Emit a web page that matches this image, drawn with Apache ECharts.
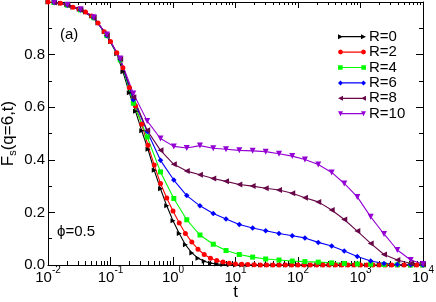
<!DOCTYPE html>
<html>
<head>
<meta charset="utf-8">
<script src="https://cdn.jsdelivr.net/npm/echarts@6/dist/echarts.min.js"></script>
<style>html,body{margin:0;padding:0;background:#fff}#c{width:436px;height:302px}</style>
</head>
<body>
<div id="c"></div>
<script>
// dense time grid (R=0, R=2)
const tDense = [0.01,0.0126,0.0158,0.02,0.0251,0.0316,0.0398,0.0501,0.0631,0.0794,
  0.1,0.126,0.158,0.2,0.251,0.316,0.398,0.501,0.631,0.794,
  1,1.26,1.58,2,2.51,3.16,3.98,5.01,6.31,7.94,
  10,12.6,15.8,20,25.1,31.6,39.8,50.1,63.1,79.4,
  100,126,158,200,251,316,398,501,631,794,
  1000,1260,1580,2000,2510,3160,3980,5010,6310,7940,10000];
const fR0 = [1.0,0.998,0.995,0.99,0.98,0.972,0.962,0.947,0.92,0.887,
  0.85,0.803,0.735,0.655,0.585,0.51,0.44,0.36,0.29,0.225,
  0.168,0.12,0.077,0.046,0.026,0.014,0.007,0.004,0.002,0.001,
  0,0,0,0,0,0,0,0,0,0, 0,0,0,0,0,0,0,0,0,0, 0,0,0,0,0,0,0,0,0,0,0];
const fR2 = [1.0,0.998,0.995,0.99,0.98,0.972,0.962,0.947,0.92,0.887,
  0.85,0.807,0.75,0.675,0.605,0.535,0.455,0.38,0.31,0.255,
  0.205,0.16,0.12,0.087,0.06,0.04,0.026,0.017,0.011,0.007,
  0.004,0.003,0.002,0.001,0,0,0,0,0,0, 0,0,0,0,0,0,0,0,0,0, 0,0,0,0,0,0,0,0,0,0,0];
// sparse time grid (R=4..10)
const tSparse = [0.0125,0.0204,0.0331,0.0538,0.0873,0.143,0.232,0.386,0.631,1.03,
  1.66,2.70,4.41,7.05,11.5,18.8,30.4,49.7,81.0,129,
  211,346,550,889,1456,2377,3882,6353,10000];
const fR4 = [0.998,0.988,0.97,0.94,0.872,0.78,0.615,0.487,0.354,0.253,
  0.172,0.114,0.079,0.055,0.04,0.03,0.023,0.019,0.015,0.013,
  0.011,0.008,0.006,0.004,0.003,0.002,0.001,0,0];
const fR6 = [0.998,0.988,0.97,0.94,0.873,0.782,0.628,0.508,0.398,0.323,
  0.264,0.225,0.196,0.175,0.154,0.141,0.130,0.120,0.111,0.103,
  0.086,0.072,0.053,0.032,0.015,0.006,0.002,0.001,0];
const fR8 = [0.998,0.988,0.97,0.94,0.874,0.783,0.638,0.512,0.436,0.383,
  0.357,0.343,0.329,0.318,0.306,0.300,0.292,0.285,0.273,0.256,
  0.240,0.209,0.173,0.129,0.082,0.040,0.019,0.006,0.003];
const fR10 = [0.998,0.99,0.972,0.942,0.876,0.785,0.652,0.548,0.481,0.451,
  0.445,0.454,0.444,0.440,0.436,0.434,0.431,0.423,0.414,0.401,
  0.382,0.352,0.310,0.259,0.183,0.118,0.057,0.019,0.004];

const seriesNames = ['R=0','R=2','R=4','R=6','R=8','R=10'];
const xMajor = [0.01,0.1,1,10,100,1000,10000];
const xMinorMult = [2,3,4,5,6,7,8,9];
const yTicks = [0,0.2,0.4,0.6,0.8];

const colors = ['#000000','#ff0000','#00ff00','#0000ff','#670748','#9400d3'];
const symbols = [
  'path://M0,0 L10,5 L0,10 Z',
  'circle',
  'rect',
  'diamond',
  'path://M10,0 L10,10 L0,5 Z',
  'path://M0,0 L10,0 L5,10 Z'
];
const sizes = [5,5,5,5.5,6,6];
// legend icons: line with a marker at each end (box 28 x 5)
const lineP = 'M2.5,1.9 L25.5,1.9 L25.5,3.1 L2.5,3.1 Z ';
function oct(c){return 'M'+c+',0 L'+(c+1.77)+',0.73 L'+(c+2.5)+',2.5 L'+(c+1.77)+',4.27 L'+c+',5 L'+(c-1.77)+',4.27 L'+(c-2.5)+',2.5 L'+(c-1.77)+',0.73 Z ';}
const legendIcons = [
  'path://' + lineP + 'M0,0 L5,2.5 L0,5 Z M23,0 L28,2.5 L23,5 Z',
  'path://' + lineP + oct(2.5) + oct(25.5),
  'path://' + lineP + 'M0.2,0.2 L4.8,0.2 L4.8,4.8 L0.2,4.8 Z M23.2,0.2 L27.8,0.2 L27.8,4.8 L23.2,4.8 Z',
  'path://' + lineP + 'M2.5,0 L5,2.5 L2.5,5 L0,2.5 Z M25.5,0 L28,2.5 L25.5,5 L23,2.5 Z',
  'path://' + lineP + 'M5,0 L5,5 L0,2.5 Z M28,0 L28,5 L23,2.5 Z',
  'path://' + lineP + 'M0,0 L5,0 L2.5,5 Z M23,0 L28,0 L25.5,5 Z'
];

const xMinor = [];
for (let d = 0; d < xMajor.length - 1; d++) for (const m of xMinorMult) xMinor.push(+(xMajor[d]*m).toPrecision(3));

const FONT = 'Liberation Sans, Arial, sans-serif';
const dataSets = [[tDense,fR0],[tDense,fR2],[tSparse,fR4],[tSparse,fR6],[tSparse,fR8],[tSparse,fR10]];

const series = dataSets.map((ds, i) => ({
  name: seriesNames[i],
  type: 'line',
  xAxisIndex: 0, yAxisIndex: 0,
  data: ds[0].map((t, j) => [t, ds[1][j]]),
  symbol: symbols[i],
  symbolSize: sizes[i],
  showAllSymbol: true,
  lineStyle: {color: colors[i], width: 1.1},
  itemStyle: {color: colors[i], borderWidth: 0},
  emphasis: {disabled: true},
  animation: false
}));

const xBase = {type:'log', logBase:10, min:0.01, max:10000, gridIndex:0, splitLine:{show:false}};
const axisLine = {show:true, lineStyle:{color:'#000', width:1}};

const option = {
  animation: false,
  grid: {left:48, right:13, top:2, bottom:37, containLabel:false, outerBoundsMode:'none'},
  xAxis: [
    Object.assign({}, xBase, {
      position:'bottom', axisLine: axisLine,
      axisTick:{show:true, inside:true, length:8, lineStyle:{color:'#000'}, customValues:xMajor},
      axisLabel:{show:true, margin:0, customValues:xMajor, color:'#000', hideOverlap:false,
        formatter:(v)=>'{b|10}{s|'+Math.round(Math.log10(v))+'}',
        rich:{b:{fontSize:15, fontFamily:FONT, lineHeight:26, color:'#000'},
              s:{fontSize:10, fontFamily:FONT, lineHeight:10, verticalAlign:'top', color:'#000'}}},
      name:'t', nameLocation:'middle', nameGap:19, nameMoveOverlap:false,
      nameTextStyle:{fontSize:17, fontFamily:FONT, color:'#000'}
    }),
    Object.assign({}, xBase, {
      position:'bottom', axisLine:{show:false},
      axisTick:{show:true, inside:true, length:4, lineStyle:{color:'#000'}, customValues:xMinor},
      axisLabel:{show:false}
    }),
    Object.assign({}, xBase, {
      position:'top', axisLine: axisLine,
      axisTick:{show:true, inside:true, length:6, lineStyle:{color:'#000'}, customValues:xMajor},
      axisLabel:{show:false}
    }),
    Object.assign({}, xBase, {
      position:'top', axisLine:{show:false},
      axisTick:{show:true, inside:true, length:3, lineStyle:{color:'#000'}, customValues:xMinor},
      axisLabel:{show:false}
    })
  ],
  yAxis: [
    {type:'value', min:0, max:1, interval:0.2, position:'left', gridIndex:0,
     axisLine: axisLine, splitLine:{show:false},
     axisTick:{show:true, inside:true, length:7, lineStyle:{color:'#000'}},
     minorTick:{show:true, splitNumber:2, length:4, lineStyle:{color:'#000'}},
     axisLabel:{margin:3, fontSize:15, fontFamily:FONT, color:'#000',
       formatter:(v)=> yTicks.some(y=>Math.abs(y-v)<1e-9) ? v.toFixed(1) : ''},
     name:'F{s|s}(q=6,t)', nameLocation:'middle', nameGap:30, nameMoveOverlap:false,
     nameTextStyle:{fontSize:17, fontFamily:FONT, color:'#000', lineHeight:20,
       rich:{s:{fontSize:11, fontFamily:FONT, lineHeight:11, verticalAlign:'bottom', color:'#000'}}}
    },
    {type:'value', min:0, max:1, interval:0.2, position:'right', gridIndex:0,
     axisLine: axisLine, splitLine:{show:false},
     axisTick:{show:true, inside:true, length:7, lineStyle:{color:'#000'}},
     minorTick:{show:true, splitNumber:2, length:4, lineStyle:{color:'#000'}},
     axisLabel:{show:false}
    }
  ],
  legend: {
    orient:'vertical', left:333, top:24,
    itemWidth:28, itemHeight:5, itemGap:0,
    selectedMode:false,
    textStyle:{fontSize:15, fontFamily:FONT, color:'#000', lineHeight:15.4, padding:[0,0,0,-2]},
    data: seriesNames.map((n,i)=>({name:n, icon:legendIcons[i], itemStyle:{color:colors[i], borderWidth:0}}))
  },
  graphic: [
    {type:'text', left:60, top:27, style:{text:'(a)', font:'15px '+FONT, fill:'#000'}},
    {type:'text', left:57, top:224, style:{text:'\u03d5=0.5', font:'15px '+FONT, fill:'#000'}}
  ],
  series: series
};

const chart = echarts.init(document.getElementById('c'), null, {renderer:'canvas'});
chart.setOption(option);
</script>
</body>
</html>
